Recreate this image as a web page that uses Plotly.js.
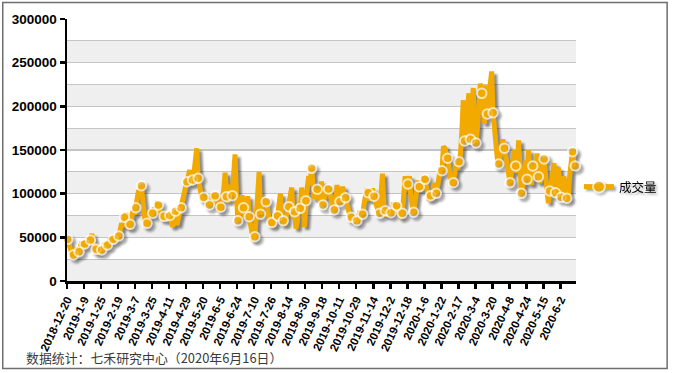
<!DOCTYPE html>
<html>
<head>
<meta charset="utf-8">
<script src="https://cdn.plot.ly/plotly-3.0.1.min.js"></script>
<style>
html,body{margin:0;padding:0;background:#fff;}
#chart{width:674px;height:373px;}
#chart .scatterlayer .trace{filter:drop-shadow(3px 3px 1.2px rgba(0,0,0,0.45));}
#chart .legend .traces{filter:drop-shadow(2px 2px 1px rgba(0,0,0,0.35));}
</style>
</head>
<body>
<div id="chart"></div>
<script>
// Tick labels (every 12 trading days)
const tickLabels = ["2018-12-20","2019-1-9","2019-1-25","2019-2-19","2019-3-7","2019-3-25","2019-4-11","2019-4-29","2019-5-20","2019-6-5","2019-6-24","2019-7-10","2019-7-26","2019-8-14","2019-8-30","2019-9-18","2019-10-11","2019-10-29","2019-11-14","2019-12-2","2019-12-18","2020-1-6","2020-1-22","2020-2-17","2020-3-4","2020-3-20","2020-4-8","2020-4-24","2020-5-15","2020-6-2"];
const seriesName = "成交量";
// Daily volume values (one per trading day), 12 per row
const volume = [
47700,40000,36000,31000,29800,34000,38000,32000,33500,40000,45000,37000,
42400,46000,41000,50000,47000,54000,44000,38000,36300,31000,33000,38000,
35500,39000,43000,37000,41200,45000,49000,43000,47700,50000,45000,53000,
51500,58000,66000,62000,72900,78000,68000,60000,64900,72000,80000,76000,
83900,96000,104000,98000,109100,92000,78000,62000,66000,72000,82000,75000,
77500,84000,80000,88000,87000,80000,76000,70000,74000,70000,76000,68000,
75000,66000,62000,70000,80000,64000,72000,78000,84000,90000,100000,106000,
113700,120000,127000,110000,115600,122000,138000,152000,117600,108000,100000,92000,
95800,90000,94000,88000,87000,92000,100000,94000,97700,90000,86000,80000,
84400,92000,104000,124000,96500,90000,100000,110000,97700,130000,145000,100000,
69000,76000,88000,98000,83900,72000,84000,97000,73600,66000,58000,46000,
50700,70000,100000,125000,76400,82000,96000,88000,90800,78000,72000,64000,
67000,62000,70000,78000,74400,88000,100000,76000,69000,64000,72000,80000,
85100,95000,107000,72000,79400,60000,68000,88000,83200,107000,92000,62000,
91900,108000,120000,110000,129000,100000,94000,98000,105000,96000,90000,114000,
87000,95000,100000,108000,105300,98000,90000,85000,81300,90000,110000,96000,
90800,100000,108000,99000,95400,88000,80000,75000,72900,68000,74000,70000,
69000,72000,80000,78000,76400,88000,98000,106000,101100,92000,98000,106000,
97000,90000,84000,80000,77500,95000,123000,86000,80500,74000,84000,76000,
78200,82000,90000,82000,86200,80000,75000,74000,77500,98000,120000,104000,
111100,120000,96000,82000,78700,90000,102000,115000,108000,103000,112000,120000,
116400,110000,100000,92000,97700,93000,105000,112000,100400,110000,122000,130000,
126300,154000,152000,148000,140500,128000,118000,110000,112600,122000,135000,128000,
136600,145000,172000,207000,160300,165000,200000,215000,162200,190000,221000,168000,
158000,175000,205000,226000,214900,200000,180000,224000,191200,210000,230000,240000,
192700,168000,150000,140000,134000,142000,155000,162000,152000,140000,126000,118000,
112600,124000,140000,150000,131700,124000,161000,115000,100400,108000,120000,138000,
116400,150000,128000,110000,131700,125000,118000,146000,119400,112000,125000,132000,
139700,122000,108000,89000,103000,110000,122000,135000,101100,95000,130000,110000,
95800,100000,120000,98000,94700,92000,120000,140000,148000,145000,131700
];
const sourceNote = "数据统计：七禾研究中心（2020年6月16日）";

const N = volume.length;
const TICK_EVERY = 12;
const MARK_EVERY = 4;
const xs = volume.map((_, i) => i);
const isMark = volume.map((_, i) => (i % MARK_EVERY === 0) || i === N - 1);
const mSize = isMark.map(m => m ? 9.5 : 0);
const mLine = isMark.map(m => m ? 2 : 0);
const tickvals = tickLabels.map((_, k) => k * TICK_EVERY - 0.5);

const ORANGE = "#F2A900";
const yMax = 300000, yStep = 50000, band = 25000;
const shapes = [];
for (let v = 0; v < yMax; v += yStep) {
  shapes.push({type:"rect", xref:"paper", yref:"y", x0:0, x1:1, y0:v, y1:v+band,
    fillcolor:"#EFEFEF", line:{width:0}, layer:"below"});
}
// outer frame
const L = 67, R = 578, T = 19, B = 281;
const px = p => (p - L) / (R - L), py = p => (B - p) / (B - T);
shapes.push({type:"rect", xref:"paper", yref:"paper", x0:px(2.5), x1:px(669.5), y0:py(368.5), y1:py(2.5),
  line:{color:"#6E6E6E", width:1.5}, fillcolor:"rgba(0,0,0,0)", layer:"above"});

const trace = {
  x: xs, y: volume, type:"scatter", mode:"lines+markers", name: seriesName,
  line:{color:ORANGE, width:5, shape:"linear"},
  marker:{color:ORANGE, size:mSize, line:{color:"#FFFFFF", width:mLine}},
  cliponaxis:false, hoverinfo:"skip"
};

const tickFont = {family:"Liberation Sans, Arial, sans-serif", size:13.5, color:"#000", weight:"bold"};
const layout = {
  width:674, height:373,
  margin:{l:L, r:674-R, t:T, b:373-B, pad:0},
  paper_bgcolor:"#FFFFFF", plot_bgcolor:"#FFFFFF",
  showlegend:true,
  legend:{x:px(581), xanchor:"left", y:py(187), yanchor:"middle",
    font:{family:"Noto Sans CJK SC, sans-serif", size:12.5, color:"#000"},
    itemsizing:"constant", bgcolor:"rgba(0,0,0,0)", borderwidth:0},
  xaxis:{type:"linear", range:[-0.5, N - 0.5], tickmode:"array", tickvals:tickvals, ticktext:tickLabels,
    tickangle:-65, ticks:"outside", ticklen:5, tickwidth:2.5, tickcolor:"#000",
    showline:true, linecolor:"#000", linewidth:2.5, showgrid:false, zeroline:false,
    tickfont:{family:"Liberation Sans, Arial, sans-serif", size:11.5, color:"#000", weight:"bold"}},
  yaxis:{range:[0, yMax], dtick:yStep, tick0:0, tickformat:"d", ticks:"outside", ticklen:5, tickwidth:2.5, tickcolor:"#000",
    showline:true, linecolor:"#000", linewidth:2.5, zeroline:false,
    showgrid:true, gridcolor:"#C4C4C4", gridwidth:1.2,
    minor:{dtick:band, showgrid:true, gridcolor:"#C4C4C4", gridwidth:1.2, ticks:""},
    tickfont:tickFont},
  shapes:shapes,
  annotations:[{xref:"paper", yref:"paper", x:px(24), y:py(357), xanchor:"left", yanchor:"middle",
    text:sourceNote, showarrow:false, font:{family:"Noto Sans CJK SC, sans-serif", size:12.9, color:"#3A3A3A"}}]
};

Plotly.newPlot("chart", [trace], layout, {displayModeBar:false, staticPlot:true});
</script>
</body>
</html>
